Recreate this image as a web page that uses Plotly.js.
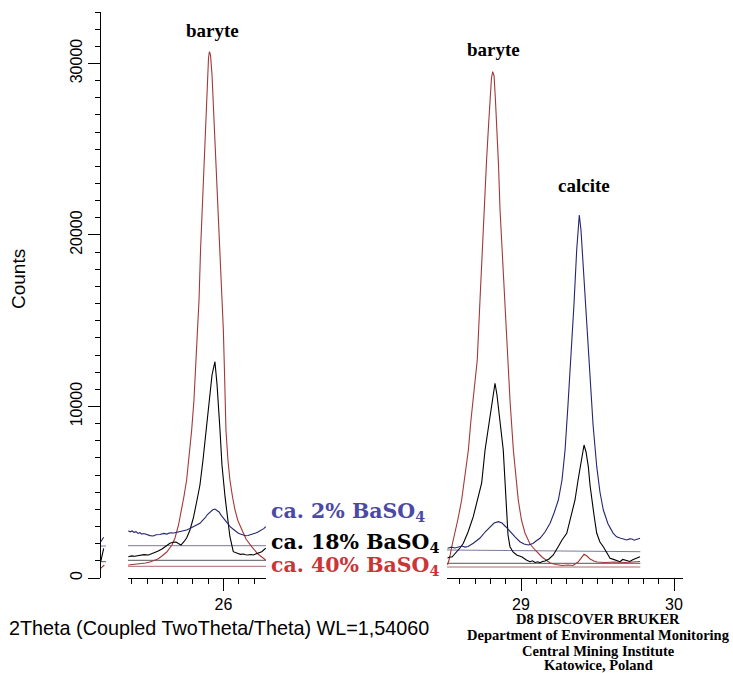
<!DOCTYPE html>
<html><head><meta charset="utf-8">
<script src="https://cdn.plot.ly/plotly-3.0.1.min.js"></script>
<style>html,body{margin:0;padding:0;background:#fff}#chart{width:733px;height:673px}</style>
</head><body><div id="chart"></div>
<script>
// ---------- data (2Theta in degrees, intensity in counts) ----------
const seriesNames = ['ca. 2% BaSO<sub>4</sub>', 'ca. 18% BaSO<sub>4</sub>', 'ca. 40% BaSO<sub>4</sub>'];
const peakLabels = ['baryte', 'baryte', 'calcite'];
const peakLabelPos = [[25.925, 31900], [28.82, 30800], [29.41, 22900]];

// left window (around 26°)
const leftBlueX = [25.378,25.39,25.403,25.415,25.428,25.441,25.454,25.467,25.48,25.5,25.52,25.541,25.56,25.585,25.61,25.63,25.65,25.675,25.703,25.73,25.759,25.78,25.801,25.825,25.846,25.865,25.879,25.895,25.912,25.93,25.944,25.958,25.971,25.985,25.999,26.015,26.029,26.045,26.064,26.08,26.095,26.11,26.129,26.145,26.16,26.178,26.195,26.21,26.225,26.24,26.25,26.263,26.276];
const leftBlueY = [2758,2690,2740,2660,2700,2600,2641,2560,2590,2507,2470,2449,2520,2536,2600,2560,2641,2620,2682,2720,2799,2880,2974,3090,3190,3380,3499,3700,3866,3980,4023,3940,3848,3650,3481,3300,3149,2980,2840,2720,2624,2560,2507,2460,2478,2520,2566,2620,2682,2760,2799,2880,2991];

const leftBlackX = [25.378,25.40,25.42,25.454,25.48,25.51,25.541,25.57,25.598,25.625,25.650,25.670,25.690,25.705,25.722,25.740,25.759,25.781,25.803,25.827,25.846,25.866,25.886,25.907,25.925,25.944,25.958,25.977,25.990,26.010,26.029,26.042,26.064,26.08,26.095,26.11,26.129,26.145,26.160,26.178,26.195,26.21,26.225,26.250,26.276];
const leftBlackY = [1242,1290,1270,1312,1360,1340,1440,1560,1691,1850,2023,2080,2099,2010,1924,2100,2332,2799,3499,4548,5423,6880,8630,10571,11837,12612,11254,8630,6589,4741,3382,2408,1534,1460,1429,1380,1399,1360,1341,1370,1341,1400,1458,1534,1732];

const leftRedX = [25.378,25.41,25.454,25.49,25.519,25.545,25.571,25.60,25.629,25.663,25.683,25.706,25.727,25.742,25.759,25.775,25.792,25.807,25.820,25.829,25.840,25.850,25.865,25.880,25.893,25.902,25.908,25.915,25.925,25.938,25.951,25.962,25.977,25.987,25.999,26.007,26.016,26.029,26.042,26.059,26.075,26.095,26.119,26.147,26.184,26.225,26.276];
const leftRedY = [758,790,816,870,933,1010,1108,1300,1516,1924,2332,3090,3965,4781,5714,6997,8630,10379,12519,13878,16210,19125,22624,26122,28746,30321,30688,30496,29329,26706,24082,22624,19125,16793,14461,11837,8630,6880,5714,4723,3965,3324,2799,2274,1825,1399,1050];

// right window (29–30°)
const rightBlueX = [28.520,28.545,28.569,28.59,28.614,28.634,28.654,28.688,28.732,28.765,28.797,28.824,28.852,28.876,28.902,28.928,28.961,28.993,29.020,29.048,29.078,29.098,29.124,29.157,29.190,29.216,29.244,29.268,29.288,29.307,29.331,29.346,29.364,29.373,29.381,29.392,29.407,29.425,29.451,29.471,29.495,29.516,29.538,29.569,29.603,29.625,29.647,29.67,29.691,29.71,29.725,29.74,29.752,29.765,29.778];
const rightBlueY = [1732,1800,1749,1820,1866,1800,1837,2023,2332,2682,2991,3207,3283,3207,2974,2700,2391,2117,1983,1924,2012,2157,2315,2682,3190,3790,4548,5714,7464,10087,13294,15918,19125,20408,21166,20291,18152,15627,11353,8921,6490,5015,3965,3149,2606,2400,2332,2250,2216,2280,2274,2200,2245,2290,2315];

const rightBlackX = [28.520,28.535,28.549,28.575,28.601,28.623,28.654,28.688,28.719,28.743,28.765,28.784,28.797,28.814,28.830,28.843,28.858,28.873,28.884,28.895,28.907,28.915,28.928,28.948,28.972,29.007,29.035,29.059,29.075,29.092,29.11,29.124,29.14,29.157,29.183,29.211,29.242,29.268,29.299,29.320,29.340,29.353,29.373,29.386,29.399,29.412,29.425,29.440,29.451,29.462,29.477,29.495,29.516,29.538,29.556,29.582,29.60,29.614,29.63,29.647,29.665,29.680,29.695,29.712,29.73,29.745,29.76,29.778];
const rightBlackY = [1166,1224,1224,1458,1749,2023,2682,3574,4665,5539,7464,8630,9405,10671,11353,10671,9405,8338,7464,5714,3574,2507,1825,1516,1341,1224,1050,950,1000,904,950,892,960,991,1108,1341,1808,2216,2606,3382,4140,4548,5714,6490,7172,7755,7347,6490,5423,4548,3673,2606,2099,1825,1516,1149,1100,1050,1000,950,1080,1050,980,962,1060,1108,1150,1242];

const rightRedX = [28.520,28.533,28.547,28.569,28.588,28.612,28.634,28.656,28.673,28.693,28.714,28.732,28.745,28.760,28.775,28.788,28.797,28.807,28.815,28.824,28.833,28.843,28.853,28.863,28.876,28.889,28.902,28.913,28.928,28.950,28.967,28.982,29.003,29.026,29.059,29.092,29.137,29.190,29.229,29.268,29.307,29.340,29.373,29.392,29.412,29.431,29.451,29.477,29.497,29.549,29.614,29.680,29.725,29.778];
const rightRedY = [758,1166,1808,2624,3440,4548,5948,7464,9213,10845,12711,16210,18834,21458,24373,26414,27872,29155,29522,29271,27872,26122,24082,21458,19125,16793,14753,12711,10379,7464,5714,4548,3382,2624,1983,1633,1224,875,787,729,758,729,933,1166,1382,1283,1108,991,933,904,933,904,933,962];

// background (baseline) lines of each pattern
const leftBaseX = [25.3758, 26.2778];
const rightBaseX = [28.5163, 29.78];
const blueBaseLeft = [1883, 1883], blackBaseLeft = [1032, 1032], redBaseLeft = [682, 682];
const blueBaseRight = [1633, 1534], blackBaseRight = [857, 857], redBaseRight = [641, 641];

// short remnant of a preceding window next to the y axis
const stubBlueX = [24.9046, 24.924], stubBlueY = [2117, 2373];
const stubBlackX = [24.9046, 24.915, 24.924], stubBlackY = [950, 1440, 1732];
const stubRedX = [24.9046, 24.928], stubRedY = [566, 758];
const stubBaseX = [24.90, 24.939], stubBaseBlue = [1866, 1866], stubBaseBlack = [950, 950];

// axis ticks
const xTickVals = [26, 29, 30];
const yTickVals = [0, 10000, 20000, 30000];
const yTickText = ['0', '10000', '20000', '30000'];

// ---------- drawing ----------
const W = 733, H = 673;
const px = v => v / W, py = v => 1 - v / H;
const RED = '#a23838', BLUE = '#25256f', BLACK = '#000000';
const RED_BASE = '#b06a6a', BLUE_BASE = '#7b7b9c', BLACK_BASE = '#555555';

function tr(x, y, xa, color, w) {
  return {x: x, y: y, xaxis: xa, yaxis: 'y', type: 'scatter', mode: 'lines',
    line: {color: color, width: w || 1.1}, hoverinfo: 'skip', showlegend: false};
}

const traces = [
  tr(stubBaseX, stubBaseBlue, 'x', BLUE_BASE, 1), tr(stubBaseX, stubBaseBlack, 'x', BLACK_BASE, 1),
  tr(stubBlueX, stubBlueY, 'x', BLUE), tr(stubBlackX, stubBlackY, 'x', BLACK), tr(stubRedX, stubRedY, 'x', RED),
  tr(leftBaseX, blueBaseLeft, 'x2', BLUE_BASE, 1), tr(leftBaseX, blackBaseLeft, 'x2', BLACK_BASE, 1), tr(leftBaseX, redBaseLeft, 'x2', RED_BASE, 1),
  tr(rightBaseX, blueBaseRight, 'x3', BLUE_BASE, 1), tr(rightBaseX, blackBaseRight, 'x3', BLACK_BASE, 1), tr(rightBaseX, redBaseRight, 'x3', RED_BASE, 1),
  tr(leftRedX, leftRedY, 'x2', RED), tr(leftBlackX, leftBlackY, 'x2', BLACK), tr(leftBlueX, leftBlueY, 'x2', BLUE),
  tr(rightRedX, rightRedY, 'x3', RED), tr(rightBlackX, rightBlackY, 'x3', BLACK), tr(rightBlueX, rightBlueY, 'x3', BLUE)
];

const tickFont = {family: 'Liberation Sans, Arial, sans-serif', size: 16, color: '#000'};
function xAxis(dom, rng) {
  return {domain: dom, range: rng, anchor: 'y', showline: true, linecolor: '#000', linewidth: 1,
    ticks: 'outside', ticklen: 12, tickwidth: 1, tickcolor: '#000', tickmode: 'array', tickvals: xTickVals,
    showgrid: false, zeroline: false, tickfont: tickFont, fixedrange: true,
    minor: {dtick: 0.1, tick0: 0, ticks: 'outside', ticklen: 5, tickwidth: 1, tickcolor: '#000', showgrid: false}};
}

const serif = 'Liberation Serif, Times New Roman, serif';
const annotations = [];
peakLabels.forEach((t, i) => {
  annotations.push({xref: i === 0 ? 'x2' : 'x3', yref: 'y', x: peakLabelPos[i][0], y: peakLabelPos[i][1],
    text: '<b>' + t + '</b>', showarrow: false, font: {family: serif, size: 19, color: '#000'}, xanchor: 'center', yanchor: 'middle'});
});
const legendColors = ['#4a4aa6', '#000000', '#cc3535'];
const legendY = [512, 543, 566];
seriesNames.forEach((t, i) => {
  annotations.push({xref: 'paper', yref: 'paper', x: px(269), y: py(legendY[i]), text: '<b>' + t + '</b>',
    showarrow: false, xanchor: 'left', yanchor: 'middle', font: {family: 'DejaVu Serif, serif', size: 20.5, color: legendColors[i]}});
});
annotations.push({xref: 'paper', yref: 'paper', x: px(18), y: py(279), text: 'Counts', textangle: -90, showarrow: false,
  xanchor: 'center', yanchor: 'middle', font: {family: 'Liberation Sans, Arial, sans-serif', size: 19, color: '#000'}});
annotations.push({xref: 'paper', yref: 'paper', x: px(7), y: py(628), text: '2Theta (Coupled TwoTheta/Theta) WL=1,54060', showarrow: false,
  xanchor: 'left', yanchor: 'middle', font: {family: 'Liberation Sans, Arial, sans-serif', size: 19.8, color: '#000'}});
const credits = ['D8 DISCOVER BRUKER', 'Department of Environmental Monitoring', 'Central Mining Institute', 'Katowice, Poland'];
const creditY = [619, 635, 650.5, 665];
credits.forEach((t, i) => {
  annotations.push({xref: 'paper', yref: 'paper', x: px(598), y: py(creditY[i]), text: '<b>' + t + '</b>', showarrow: false,
    xanchor: 'center', yanchor: 'middle', borderpad: 0, font: {family: serif, size: 14.5, color: '#000'}});
});

const layout = {
  width: W, height: H, margin: {l: 0, r: 0, t: 0, b: 0}, paper_bgcolor: '#fff', plot_bgcolor: 'rgba(0,0,0,0)',
  showlegend: false,
  xaxis: {domain: [px(100), px(106)], range: [24.90, 24.939], anchor: 'y', visible: false, fixedrange: true},
  xaxis2: xAxis([px(128), px(266)], [25.3758, 26.2778]),
  xaxis3: xAxis([px(447), px(683)], [28.5163, 30.0588]),
  yaxis: {domain: [py(578), py(12)], range: [0, 33000], anchor: 'free', position: px(100),
    showline: true, linecolor: '#000', linewidth: 1, ticks: 'outside', ticklen: 12, tickwidth: 1, tickcolor: '#000',
    tickmode: 'array', tickvals: yTickVals, ticktext: yTickText, tickangle: -90,
    showgrid: false, zeroline: false, tickfont: tickFont, fixedrange: true,
    minor: {dtick: 1000, tick0: 0, ticks: 'outside', ticklen: 5, tickwidth: 1, tickcolor: '#000', showgrid: false}},
  annotations: annotations
};

Plotly.newPlot('chart', traces, layout, {staticPlot: true, displayModeBar: false});
</script>
</body></html>
